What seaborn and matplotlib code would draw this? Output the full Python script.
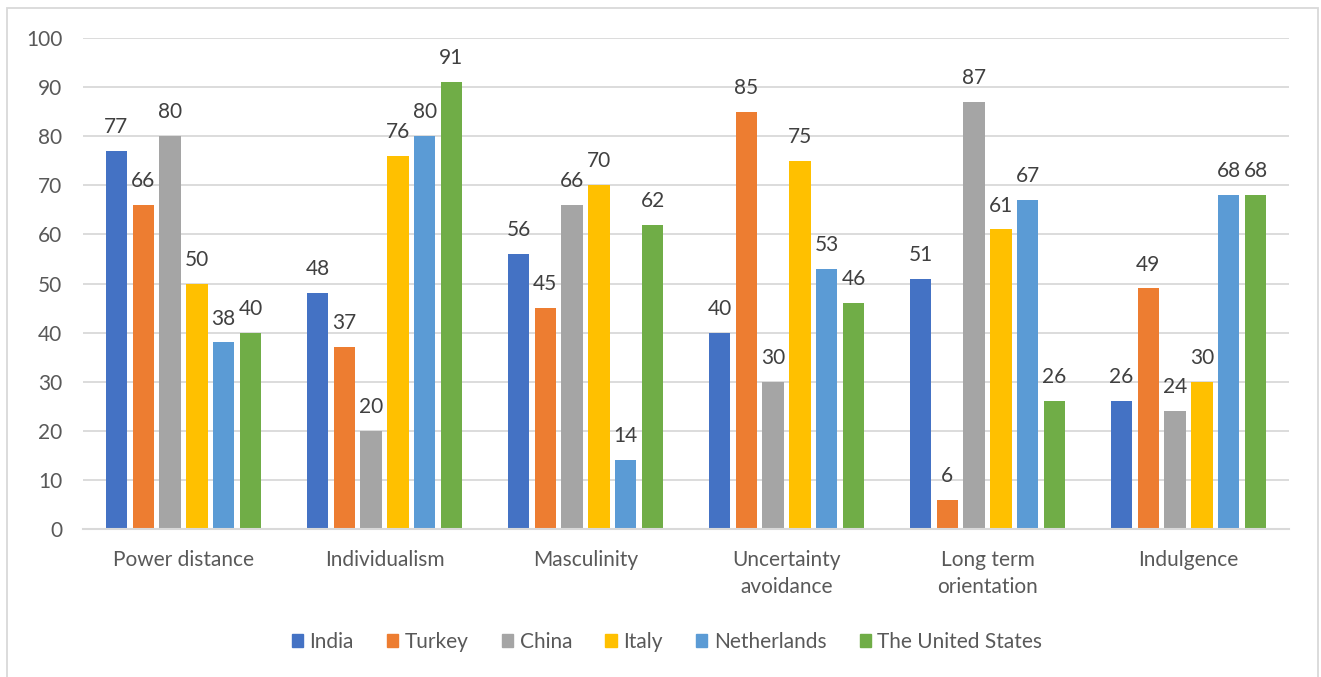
import matplotlib
matplotlib.use("Agg")
import matplotlib.pyplot as plt
import matplotlib.patches as mpatches
import seaborn as sns
import pandas as pd

dimensions = ["Power distance", "Individualism", "Masculinity",
              "Uncertainty\navoidance", "Long term\norientation", "Indulgence"]
countries = ["India", "Turkey", "China", "Italy", "Netherlands", "The United States"]
india = [77, 48, 56, 40, 51, 26]
turkey = [66, 37, 45, 85, 6, 49]
china = [80, 20, 66, 30, 87, 24]
italy = [50, 76, 70, 75, 61, 30]
netherlands = [38, 80, 14, 53, 67, 68]
united_states = [40, 91, 62, 46, 26, 68]
series = [india, turkey, china, italy, netherlands, united_states]
colors = ["#4472C4", "#ED7D31", "#A5A5A5", "#FFC000", "#5B9BD5", "#70AD47"]
yticks = [0, 10, 20, 30, 40, 50, 60, 70, 80, 90, 100]

rows = []
for c, vals in zip(countries, series):
    for d, v in zip(dimensions, vals):
        rows.append({"dimension": d, "country": c, "score": v})
df = pd.DataFrame(rows)

sns.set_theme(style="white")
plt.rcParams["font.family"] = ["Lato", "DejaVu Sans"]
text_color = "#595959"
grid_color = "#D9D9D9"
fs = 15

W, H = 1321, 677
fig = plt.figure(figsize=(W / 100, H / 100), dpi=100)
ax = fig.add_axes([83 / W, 1 - 529 / H, 1206 / W, (529 - 38) / H])

sns.barplot(data=df, x="dimension", y="score", hue="country", order=dimensions,
            hue_order=countries, palette=colors, width=0.8, gap=0.2,
            saturation=1, legend=False, linewidth=0, ax=ax)

ax.set_xlim(-0.5, len(dimensions) - 0.5)
ax.set_ylim(0, 100)
ax.set_yticks(yticks)
ax.set_yticklabels([str(t) for t in yticks])
ax.yaxis.grid(True, color=grid_color, linewidth=1.3)
ax.set_axisbelow(True)
for s in ["top", "right", "left"]:
    ax.spines[s].set_visible(False)
ax.spines["bottom"].set_color(grid_color)
ax.spines["bottom"].set_linewidth(1.5)
ax.tick_params(axis="both", length=0, colors=text_color, labelsize=fs)
ax.tick_params(axis="y", pad=15)
ax.tick_params(axis="x", pad=15)
for lbl in ax.get_xticklabels():
    lbl.set_linespacing(1.45)
ax.set_xlabel("")
ax.set_ylabel("")

for cont in ax.containers:
    ax.bar_label(cont, labels=[f"{int(v)}" for v in cont.datavalues],
                 padding=10, fontsize=fs, color="#404040")

handles = [mpatches.Patch(color=c, label=l) for c, l in zip(colors, countries)]
leg = fig.legend(handles=handles, loc="center", bbox_to_anchor=(667 / W, 1 - 642 / H),
                 ncol=6, frameon=False, fontsize=fs, handlelength=0.55,
                 handleheight=0.55, handletextpad=0.3, columnspacing=1.6)
for t in leg.get_texts():
    t.set_color(text_color)

border = mpatches.Rectangle((7 / W, -0.1), (1318 - 7) / W, 1 - 8 / H + 0.1,
                            transform=fig.transFigure, fill=False,
                            edgecolor=grid_color, linewidth=1.3, clip_on=False)
fig.patches.append(border)

fig.savefig("out.png", dpi=100)
